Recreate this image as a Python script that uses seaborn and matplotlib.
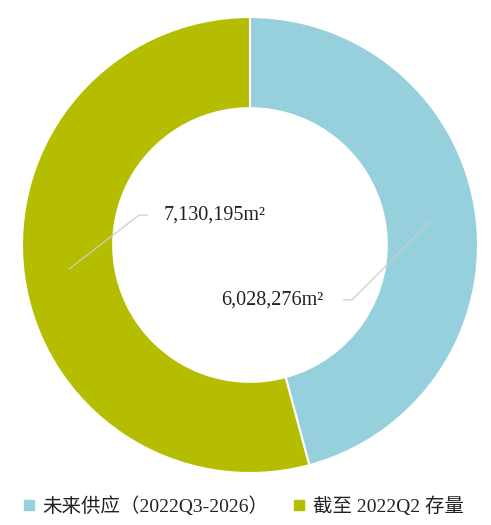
import numpy as np
import seaborn as sns
import matplotlib.pyplot as plt
from matplotlib.lines import Line2D

sns.set_theme(style='white')
plt.rcParams['font.family'] = ['Liberation Serif', 'Noto Sans CJK SC', 'DejaVu Sans']

categories = ['未来供应（2022Q3-2026）', '截至 2022Q2 存量']
values = [6028276, 7130195]
colors = ['#96D0DC', '#B5BD00']
labels = ['{:,}m²'.format(v) for v in values]

fig = plt.figure(figsize=(4.91, 5.25), dpi=100)
ax = fig.add_axes([22 / 491, 52 / 525, 456 / 491, 456 / 525])
wedges, _ = ax.pie(values, colors=colors, startangle=90, counterclock=False,
                   radius=1, wedgeprops=dict(width=0.4, edgecolor='white', linewidth=1.5))
ax.set_xlim(-1, 1)
ax.set_ylim(-1, 1)
ax.set_aspect('equal')
ax.axis('off')

# leader lines from the middle of each ring segment into the hole
offsets = [(-0.346, -0.345), (0.306, 0.236)]
gaps = [0.088, 0.07]
for w, lab, (dx, dy), gap in zip(wedges, labels, offsets, gaps):
    mid = np.deg2rad((w.theta1 + w.theta2) / 2)
    x0, y0 = 0.8 * np.cos(mid), 0.8 * np.sin(mid)
    x1, y1 = x0 + dx, y0 + dy
    side = np.sign(np.cos(mid))
    x2 = x1 - side * 0.037
    ax.plot([x0, x1, x2], [y0, y1, y1], color='#cccccc', lw=0.9)
    ax.text(x2 - side * gap, y1, lab, ha='right' if side > 0 else 'left',
            va='center', fontsize=14.5, color='#222222')

handles = [Line2D([], [], marker='s', linestyle='', markersize=7, color=c) for c in colors]
fig.legend(handles, categories, loc='center', bbox_to_anchor=(0.49, 0.036), ncol=2,
           frameon=False, fontsize=14, handletextpad=0.1, columnspacing=1.0,
           handlelength=1.2, labelcolor='#222222')

fig.savefig('out.png', dpi=100)
